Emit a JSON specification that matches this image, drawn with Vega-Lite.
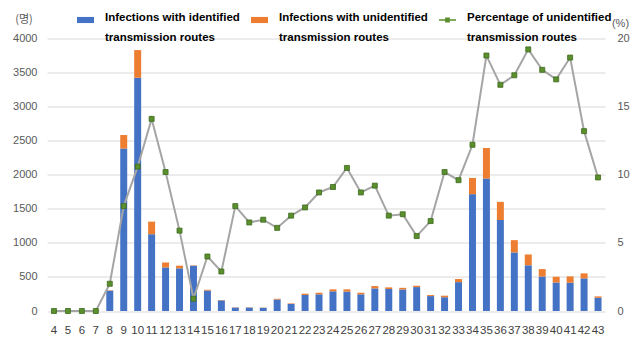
{
  "$schema": "https://vega.github.io/schema/vega-lite/v6.json",
  "width": 558,
  "height": 272.5,
  "autosize": "none",
  "padding": {"left": 47, "top": 38.5, "right": 35, "bottom": 36},
  "config": {
    "view": {"stroke": null},
    "font": "Liberation Sans",
    "axis": {"labelColor": "#595959", "titleColor": "#595959", "domain": false, "ticks": false}
  },
  "data": {
    "values": [
      {"week": 4, "identified": 3, "unidentified": 0, "pct": 0},
      {"week": 5, "identified": 12, "unidentified": 0, "pct": 0},
      {"week": 6, "identified": 9, "unidentified": 0, "pct": 0},
      {"week": 7, "identified": 6, "unidentified": 0, "pct": 0},
      {"week": 8, "identified": 299, "unidentified": 6, "pct": 2.0},
      {"week": 9, "identified": 2384, "unidentified": 199, "pct": 7.7},
      {"week": 10, "identified": 3424, "unidentified": 406, "pct": 10.6},
      {"week": 11, "identified": 1127, "unidentified": 185, "pct": 14.1},
      {"week": 12, "identified": 639, "unidentified": 73, "pct": 10.2},
      {"week": 13, "identified": 626, "unidentified": 39, "pct": 5.9},
      {"week": 14, "identified": 664, "unidentified": 6, "pct": 0.9},
      {"week": 15, "identified": 300, "unidentified": 12, "pct": 4.0},
      {"week": 16, "identified": 156, "unidentified": 5, "pct": 2.9},
      {"week": 17, "identified": 50, "unidentified": 4, "pct": 7.7},
      {"week": 18, "identified": 50, "unidentified": 4, "pct": 6.5},
      {"week": 19, "identified": 47, "unidentified": 3, "pct": 6.7},
      {"week": 20, "identified": 169, "unidentified": 11, "pct": 6.1},
      {"week": 21, "identified": 104, "unidentified": 8, "pct": 7.0},
      {"week": 22, "identified": 235, "unidentified": 19, "pct": 7.6},
      {"week": 23, "identified": 245, "unidentified": 23, "pct": 8.7},
      {"week": 24, "identified": 289, "unidentified": 29, "pct": 9.1},
      {"week": 25, "identified": 285, "unidentified": 33, "pct": 10.5},
      {"week": 26, "identified": 245, "unidentified": 23, "pct": 8.7},
      {"week": 27, "identified": 332, "unidentified": 34, "pct": 9.2},
      {"week": 28, "identified": 323, "unidentified": 24, "pct": 7.0},
      {"week": 29, "identified": 316, "unidentified": 24, "pct": 7.1},
      {"week": 30, "identified": 351, "unidentified": 20, "pct": 5.5},
      {"week": 31, "identified": 219, "unidentified": 15, "pct": 6.6},
      {"week": 32, "identified": 202, "unidentified": 23, "pct": 10.2},
      {"week": 33, "identified": 424, "unidentified": 45, "pct": 9.6},
      {"week": 34, "identified": 1715, "unidentified": 238, "pct": 12.2},
      {"week": 35, "identified": 1944, "unidentified": 449, "pct": 18.75},
      {"week": 36, "identified": 1336, "unidentified": 266, "pct": 16.6},
      {"week": 37, "identified": 860, "unidentified": 180, "pct": 17.3},
      {"week": 38, "identified": 671, "unidentified": 159, "pct": 19.2},
      {"week": 39, "identified": 506, "unidentified": 109, "pct": 17.7},
      {"week": 40, "identified": 417, "unidentified": 86, "pct": 17.0},
      {"week": 41, "identified": 414, "unidentified": 94, "pct": 18.6},
      {"week": 42, "identified": 479, "unidentified": 73, "pct": 13.2},
      {"week": 43, "identified": 194, "unidentified": 21, "pct": 9.8}
    ]
  },
  "encoding": {
    "x": {
      "field": "week",
      "type": "ordinal",
      "scale": {"paddingInner": 0.5, "paddingOuter": 0.25},
      "axis": {
        "title": null,
        "labelAngle": 0,
        "labelFontSize": 11.5,
        "labelPadding": 13,
        "labelOverlap": false,
        "labelColor": "#404040",
        "grid": false
      }
    }
  },
  "layer": [
    {
      "transform": [{"fold": ["identified", "unidentified"], "as": ["type", "count"]}],
      "mark": {"type": "bar"},
      "encoding": {
        "y": {
          "field": "count",
          "type": "quantitative",
          "stack": "zero",
          "scale": {"domain": [0, 4000], "nice": false},
          "axis": {
            "values": [0, 500, 1000, 1500, 2000, 2500, 3000, 3500, 4000],
            "format": "d",
            "grid": true,
            "gridColor": "#D9D9D9",
            "labelFontSize": 11,
            "labelPadding": 10,
            "title": "(명)",
            "titleFont": "Noto Sans CJK KR",
            "titleFontWeight": "normal",
            "titleFontSize": 11,
            "titleAngle": 0,
            "titleAlign": "center",
            "titleBaseline": "middle",
            "titleX": -23.5,
            "titleY": -19.5
          }
        },
        "order": {"field": "type", "sort": "ascending"},
        "color": {
          "field": "type",
          "type": "nominal",
          "scale": {
            "domain": ["identified", "unidentified", "pct"],
            "range": ["#4472C4", "#ED7D31", "#5B8F2E"]
          },
          "legend": {
            "orient": "none",
            "direction": "horizontal",
            "legendX": 30,
            "legendY": -27,
            "title": null,
            "padding": 0,
            "columnPadding": 11,
            "labelOffset": 11,
            "labelFontSize": 11.5,
            "labelFontWeight": "bold",
            "labelColor": "#000000",
            "labelLimit": 400,
            "symbolSize": 289,
            "symbolStrokeWidth": 0,
            "labelExpr": "datum.value == 'identified' ? ['Infections with identified', 'transmission routes'] : datum.value == 'unidentified' ? ['Infections with unidentified', 'transmission routes'] : ['Percentage of unidentified', 'transmission routes']",
            "encode": {
              "symbols": {
                "update": {
                  "shape": {"signal": "datum.value == 'pct' ? 'M-1,-0.08H1V0.08H-1Z M-0.28,-0.28H0.28V0.28H-0.28Z' : 'M-1,-0.36H1V0.36H-1Z'"}
                }
              },
              "labels": {
                "update": {
                  "lineHeight": {"value": 20},
                  "baseline": {"value": "middle"},
                  "dy": {"value": -2}
                }
              }
            }
          }
        }
      }
    },
    {
      "layer": [
        {
          "mark": {"type": "line", "color": "#A5A5A5", "strokeWidth": 2},
          "encoding": {
            "y": {
              "field": "pct",
              "type": "quantitative",
              "scale": {"domain": [0, 20], "nice": false},
              "axis": {
                "orient": "right",
                "values": [0, 5, 10, 15, 20],
                "grid": false,
                "labelFontSize": 11,
                "labelPadding": 12,
                "title": "(%)",
                "titleFontWeight": "normal",
                "titleFontSize": 11,
                "titleAngle": 0,
                "titleAlign": "center",
                "titleBaseline": "middle",
                "titleX": 15,
                "titleY": -15.5
              }
            }
          }
        },
        {
          "mark": {"type": "point", "shape": "square", "filled": true, "size": 25, "opacity": 1, "stroke": "#3D6B1E", "strokeWidth": 0.8},
          "encoding": {
            "y": {"field": "pct", "type": "quantitative"},
            "color": {"datum": "pct", "type": "nominal"}
          }
        }
      ]
    }
  ],
  "resolve": {"scale": {"y": "independent"}}
}
